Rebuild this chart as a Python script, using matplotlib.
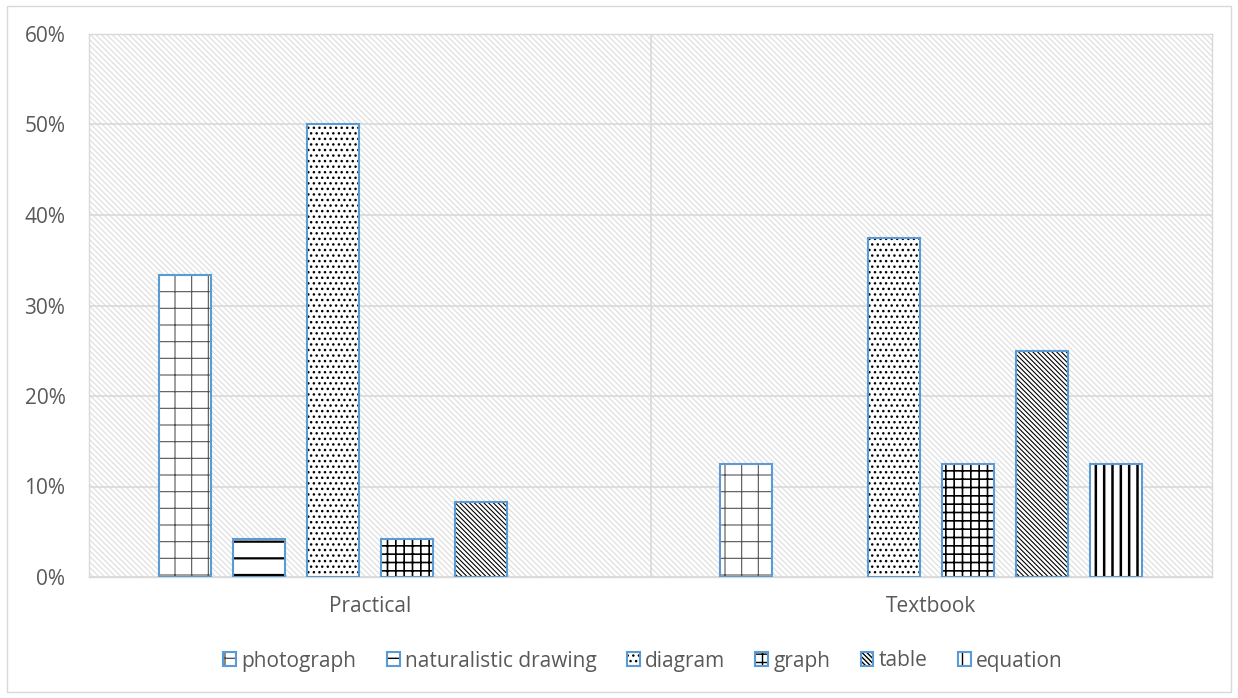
import numpy as np
import matplotlib
matplotlib.use("Agg")
import matplotlib.pyplot as plt
from matplotlib.patches import Patch, Rectangle
from matplotlib.legend_handler import HandlerTuple
from matplotlib.ticker import PercentFormatter

# Data (share of representations, in %)
categories = ["Practical", "Textbook"]
series = ["photograph", "naturalistic drawing", "diagram", "graph", "table", "equation"]
photograph = [33.33, 12.5]
naturalistic_drawing = [4.17, 0.0]
diagram = [50.0, 37.5]
graph = [4.17, 12.5]
table = [8.33, 25.0]
equation = [0.0, 12.5]
values = [photograph, naturalistic_drawing, diagram, graph, table, equation]

hatches = ["+", "-", "...", "++", "\\" * 7, "||"]
hatch_colors = ["#555555", "black", "black", "black", "black", "black"]
hatch_widths = [0.8, 1.6, 1.0, 1.2, 0.8, 1.8]
edge_blue = "#5b9bd5"
grey_text = "#595959"
grid_grey = "#d9d9d9"

plt.rcParams["font.family"] = ["Open Sans", "DejaVu Sans"]
plt.rcParams["hatch.linewidth"] = 1.0

fig = plt.figure(figsize=(12.38, 6.98), dpi=100)
ax = fig.add_axes([89 / 1238, 1 - 577 / 698, (1212 - 89) / 1238, (577 - 34) / 698])

# light hatched plot area
ax.patch.set_facecolor("white")
ax.patch.set_edgecolor("#e0e0e0")
ax.patch.set_hatch("\\" * 6)
ax.patch.set_linewidth(0)


def hatch_lw(patch, lw):
    if hasattr(patch, "set_hatch_linewidth"):
        patch.set_hatch_linewidth(lw)


hatch_lw(ax.patch, 0.9)

x = np.arange(len(categories))
step = 0.1318
width = 0.0926

handles = []
for j, (name, vals) in enumerate(zip(series, values)):
    pos = x + (j - 2.5) * step
    bars = ax.bar(pos, vals, width, color="white", edgecolor=hatch_colors[j],
                  hatch=hatches[j], linewidth=0, zorder=3)
    for b in bars:
        hatch_lw(b, hatch_widths[j])
    lws = [1.5 if v > 0 else 0 for v in vals]
    ax.bar(pos, vals, width, fill=False, edgecolor=edge_blue, linewidth=lws, zorder=4)
    h1 = Patch(facecolor="white", edgecolor=hatch_colors[j], hatch=hatches[j], linewidth=0)
    hatch_lw(h1, hatch_widths[j])
    h2 = Patch(fill=False, edgecolor=edge_blue, linewidth=1.5)
    handles.append((h1, h2))

ax.set_xlim(-0.5, 1.5)
ax.set_ylim(0, 60)
ax.set_yticks(np.arange(0, 61, 10))
ax.yaxis.set_major_formatter(PercentFormatter(decimals=0))
ax.set_xticks(x)
ax.set_xticklabels(categories)
ax.tick_params(axis="both", length=0, labelsize=15, colors=grey_text)
ax.tick_params(axis="x", pad=14)
ax.tick_params(axis="y", pad=17)

ax.yaxis.grid(True, color=grid_grey, linewidth=1.2, zorder=1)
ax.axvline(0.5, color=grid_grey, linewidth=1.2, zorder=1)
ax.set_axisbelow(True)
for sp in ax.spines.values():
    sp.set_color(grid_grey)
    sp.set_linewidth(1.0)

fig.legend(handles, series, handler_map={tuple: HandlerTuple(ndivide=1)},
           loc="center", bbox_to_anchor=(643 / 1238, 1 - 661 / 698), ncol=6,
           frameon=False, handlelength=0.62, handleheight=0.62, handletextpad=0.25,
           columnspacing=1.45, fontsize=15, labelcolor=grey_text)

# chart border
fig.patches.append(Rectangle((7 / 1238, 6 / 698), 1224 / 1238, 686 / 698,
                             transform=fig.transFigure, fill=False,
                             edgecolor=grid_grey, linewidth=1.0))

fig.savefig("out.png", dpi=100)
